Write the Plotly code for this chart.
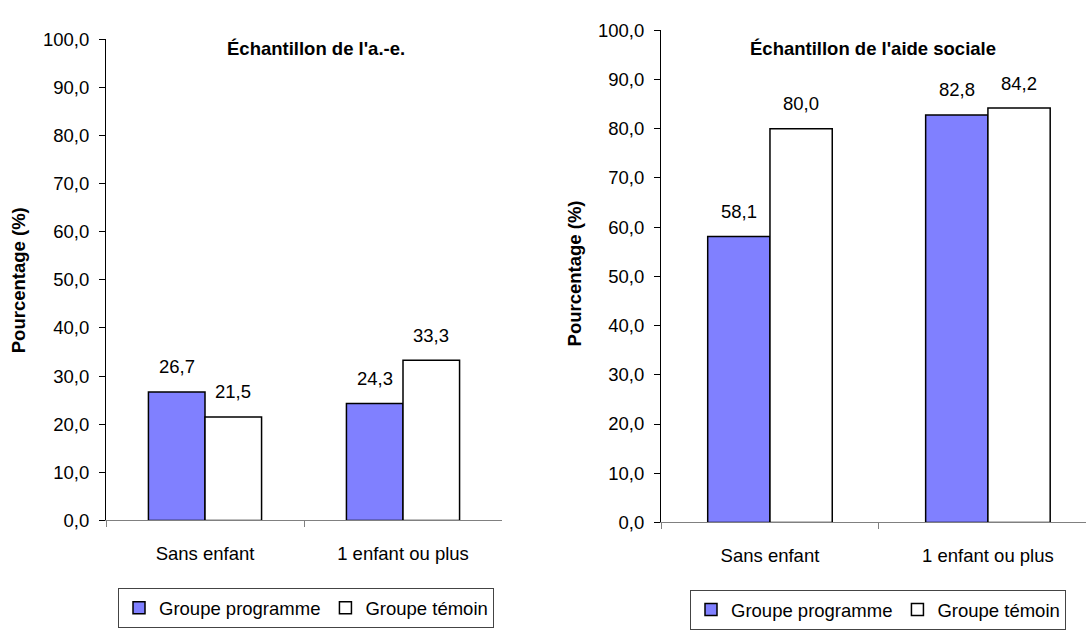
import plotly.graph_objects as go

# ---- data -------------------------------------------------------------
categories = ["Sans enfant", "1 enfant ou plus"]
series_names = ["Groupe programme", "Groupe témoin"]
panel_titles = ["Échantillon de l'a.-e.", "Échantillon de l'aide sociale"]

ae_programme = [26.7, 24.3]
ae_temoin = [21.5, 33.3]
as_programme = [58.1, 82.8]
as_temoin = [80.0, 84.2]

y_ticks = [0, 10, 20, 30, 40, 50, 60, 70, 80, 90, 100]
y_title = "Pourcentage (%)"

# ---- styling ----------------------------------------------------------
W, H = 1086, 632
FONT = "Liberation Sans, Arial, sans-serif"
FS = 18.5
BLUE = "#8080FF"
BAR_GAP = 1.5 / 3.5


def fr(v):
    return f"{v:.1f}".replace(".", ",")


def px_x(p):
    return p / W


def px_y(p):
    return (H - p) / H


fig = go.Figure()

panels = [
    ("x", "y", "legend", ae_programme, ae_temoin),
    ("x2", "y2", "legend2", as_programme, as_temoin),
]

for xa, ya, lg, prog, tem in panels:
    fig.add_trace(go.Bar(
        x=categories, y=prog, name=series_names[0], xaxis=xa, yaxis=ya,
        legend=lg, marker=dict(color=BLUE, line=dict(color="black", width=1.5)),
        hoverinfo="skip",
    ))
    fig.add_trace(go.Bar(
        x=categories, y=tem, name=series_names[1], xaxis=xa, yaxis=ya,
        legend=lg, marker=dict(color="white", line=dict(color="black", width=1.5)),
        hoverinfo="skip",
    ))

# value labels above each bar
bar_w = (1 - BAR_GAP) / 2
offsets = [-bar_w / 2, bar_w / 2]
annotations = []
for xa, ya, lg, prog, tem in panels:
    for s, vals in enumerate([prog, tem]):
        for i, v in enumerate(vals):
            annotations.append(dict(
                x=i + offsets[s], y=v, xref=xa, yref=ya, text=fr(v),
                showarrow=False, yanchor="middle", yshift=25,
                font=dict(family=FONT, size=FS, color="black"),
            ))

# panel titles
annotations.append(dict(
    x=px_x(225), y=px_y(39), xref="paper", yref="paper", text=f"<b>{panel_titles[0]}</b>",
    showarrow=False, xanchor="left", yanchor="middle",
    font=dict(family=FONT, size=FS, color="black"),
))
annotations.append(dict(
    x=px_x(748), y=px_y(39), xref="paper", yref="paper", text=f"<b>{panel_titles[1]}</b>",
    showarrow=False, xanchor="left", yanchor="middle",
    font=dict(family=FONT, size=FS, color="black"),
))

# y-axis titles
for cx, cy in [(18.5, 279), (574.5, 272)]:
    annotations.append(dict(
        x=px_x(cx), y=px_y(cy), xref="paper", yref="paper", text=f"<b>{y_title}</b>",
        textangle=-90, showarrow=False, xanchor="center", yanchor="middle",
        font=dict(family=FONT, size=FS, color="black"),
    ))

xaxis_common = dict(
    type="category", showline=True, linecolor="#808080", linewidth=1,
    ticks="outside", tickson="boundaries", ticklen=6, tickcolor="#808080",
    showgrid=False, zeroline=False, ticklabelstandoff=16,
    tickfont=dict(family=FONT, size=FS, color="black"), fixedrange=True,
)
yaxis_common = dict(
    range=[0, 100], tickmode="array", tickvals=y_ticks, tickformat=".1f",
    showline=True, linecolor="black", linewidth=1,
    ticks="outside", ticklen=6, tickcolor="black",
    showgrid=False, zeroline=False, ticklabelstandoff=6,
    tickfont=dict(family=FONT, size=FS, color="black"), fixedrange=True,
)

legend_common = dict(
    orientation="h", xanchor="center", yanchor="top",
    bordercolor="#444444", borderwidth=1, bgcolor="white",
    font=dict(family=FONT, size=FS, color="black"),
    itemclick=False, itemdoubleclick=False,
)

fig.update_layout(
    width=W, height=H,
    margin=dict(l=0, r=0, t=0, b=0),
    paper_bgcolor="white", plot_bgcolor="white",
    barmode="group", bargap=BAR_GAP, bargroupgap=0,
    separators=", ",
    showlegend=True,
    font=dict(family=FONT, size=FS, color="black"),
    xaxis=dict(domain=[px_x(106), px_x(502)], anchor="y", range=[-0.5, 1.5], **xaxis_common),
    yaxis=dict(domain=[px_y(527), px_y(29)], anchor="x", **yaxis_common),
    xaxis2=dict(domain=[px_x(661), 1.0], anchor="y2", range=[-0.5, 1.45], **xaxis_common),
    yaxis2=dict(domain=[px_y(529), px_y(20)], anchor="x2", **yaxis_common),
    legend=dict(x=px_x(306), y=px_y(597), **legend_common),
    legend2=dict(x=px_x(878), y=px_y(599), **legend_common),
    annotations=annotations,
)

fig.write_html("out.html")
